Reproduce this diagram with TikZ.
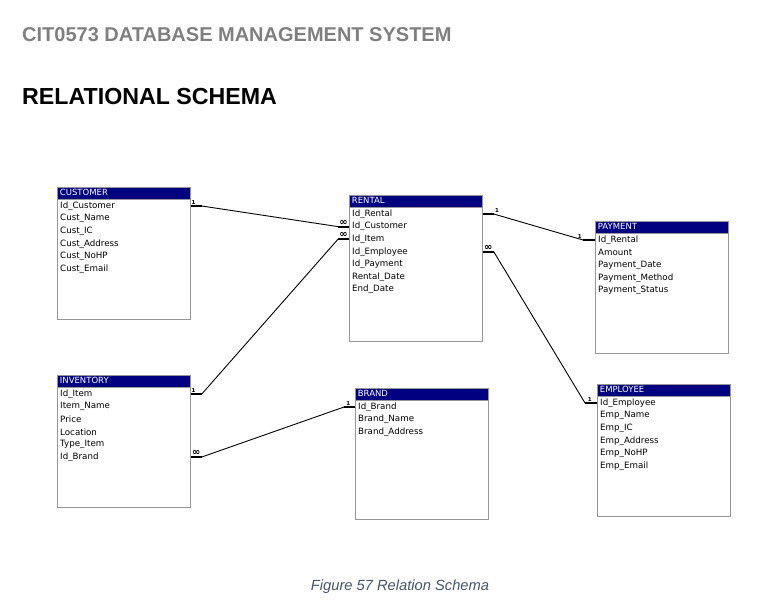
\documentclass[tikz,border=0pt]{standalone}
\usepackage{fontspec}
\setmainfont{Liberation Sans}
\newfontfamily\tabfont{DejaVu Sans}
\usetikzlibrary{positioning}

\definecolor{hdrblue}{RGB}{0,0,128}
\definecolor{boxgray}{RGB}{150,150,150}
\definecolor{titlegray}{RGB}{127,127,127}
\definecolor{capgray}{RGB}{68,84,106}

\newcommand{\many}{{\fontsize{10}{8}\selectfont ∞}}

\tikzset{
  tbl/.style={draw=boxgray, line width=0.8pt, anchor=north west,
    minimum width=133pt, inner sep=0pt},
  tblhead/.style={draw=boxgray, line width=0.8pt, fill=hdrblue, text=white,
    anchor=north west, text width=128pt, inner xsep=2.5pt, inner ysep=0pt,
    minimum height=12pt, text height=7pt, text depth=2pt,
    font=\tabfont\fontsize{8.5}{9}\selectfont},
  field/.style={anchor=west, inner sep=0pt,
    font=\tabfont\fontsize{8.7}{9}\selectfont},
  stub/.style={line width=2pt},
  link/.style={line width=0.9pt},
  card/.style={inner sep=0.4pt, font=\tabfont\bfseries\fontsize{5.5}{6}\selectfont}
}

\begin{document}
\begin{tikzpicture}[x=1pt,y=-1pt]

  \useasboundingbox (0,0) rectangle (784,614);

  % titles
  \node[anchor=west, inner sep=0pt, text=titlegray,
    font=\bfseries\fontsize{20}{24}\selectfont] (course) at (22,35)
    {CIT0573 DATABASE MANAGEMENT SYSTEM};
  \node[anchor=west, inner sep=0pt,
    font=\bfseries\fontsize{23.2}{28}\selectfont] (heading) at (22,97)
    {RELATIONAL SCHEMA};

  % tables
  \node[tbl, minimum height=132pt] (cust) at (57,187) {};
  \node[tblhead] (custh) at (57,187) {CUSTOMER};
  \foreach \n/\t [count=\i from 0] in {idcust/Id\_Customer, cname/Cust\_Name,
      cic/Cust\_IC, caddr/Cust\_Address, cnohp/Cust\_NoHP, cmail/Cust\_Email}
    \node[field] (\n) at (60,206+12.6*\i) {\t};

  \node[tbl, minimum height=146pt] (rent) at (349,195) {};
  \node[tblhead] (renth) at (349,195) {RENTAL};
  \foreach \n/\t [count=\i from 0] in {rid/Id\_Rental, rcust/Id\_Customer,
      ritem/Id\_Item, remp/Id\_Employee, rpay/Id\_Payment,
      rdate/Rental\_Date, rend/End\_Date}
    \node[field] (\n) at (352,214+12.6*\i) {\t};

  \node[tbl, minimum height=132pt] (pay) at (595,221) {};
  \node[tblhead] (payh) at (595,221) {PAYMENT};
  \foreach \n/\t [count=\i from 0] in {prent/Id\_Rental, pamt/Amount,
      pdate/Payment\_Date, pmeth/Payment\_Method, pstat/Payment\_Status}
    \node[field] (\n) at (598,240+12.6*\i) {\t};

  \node[tbl, minimum height=132pt] (inv) at (57,375) {};
  \node[tblhead] (invh) at (57,375) {INVENTORY};
  \foreach \n/\t [count=\i from 0] in {iitem/Id\_Item, iname/Item\_Name,
      iprice/Price, iloc/Location, itype/Type\_Item, ibrand/Id\_Brand}
    \node[field] (\n) at (60,394+12.6*\i) {\t};

  \node[tbl, minimum height=131pt] (brand) at (355,388) {};
  \node[tblhead] (brandh) at (355,388) {BRAND};
  \foreach \n/\t [count=\i from 0] in {bid/Id\_Brand, bname/Brand\_Name,
      baddr/Brand\_Address}
    \node[field] (\n) at (358,407+12.6*\i) {\t};

  \node[tbl, minimum height=132pt] (emp) at (597,384) {};
  \node[tblhead] (emph) at (597,384) {EMPLOYEE};
  \foreach \n/\t [count=\i from 0] in {eid/Id\_Employee, ename/Emp\_Name,
      eic/Emp\_IC, eaddr/Emp\_Address, enohp/Emp\_NoHP, email/Emp\_Email}
    \node[field] (\n) at (600,403+12.6*\i) {\t};

  % relationships
  \coordinate (c1) at ([xshift=11pt]cust.east |- idcust);
  \coordinate (r1) at ([xshift=-11pt]rent.west |- rcust);
  \draw[stub] (cust.east |- idcust) -- node[card, above, pos=0.25] {1} (c1);
  \draw[link] (c1) -- (r1);
  \draw[stub] (r1) -- node[card, above] {\many} (rent.west |- rcust);

  \coordinate (c2) at ([xshift=11pt]inv.east |- iitem);
  \coordinate (r2) at ([xshift=-11pt]rent.west |- ritem);
  \draw[stub] (inv.east |- iitem) -- node[card, above, pos=0.25] {1} (c2);
  \draw[link] (c2) -- (r2);
  \draw[stub] (r2) -- node[card, above] {\many} (rent.west |- ritem);

  \coordinate (c3) at ([xshift=11pt]rent.east |- rid);
  \coordinate (r3) at ([xshift=-12pt]pay.west |- prent);
  \draw[stub] (rent.east |- rid) -- node[card, above right, pos=1] {1} (c3);
  \draw[link] (c3) -- (r3);
  \draw[stub] (r3) -- node[card, above left, pos=0] {1} (pay.west |- prent);

  \coordinate (c4) at ([xshift=11pt]rent.east |- remp);
  \coordinate (r4) at ([xshift=-12pt]emp.west |- eid);
  \draw[stub] (rent.east |- remp) -- node[card, above] {\many} (c4);
  \draw[link] (c4) -- (r4);
  \draw[stub] (r4) -- node[card, above, pos=0.4] {1} (emp.west |- eid);

  \coordinate (c5) at ([xshift=11pt]inv.east |- ibrand);
  \coordinate (r5) at ([xshift=-11pt]brand.west |- bid);
  \draw[stub] (inv.east |- ibrand) -- node[card, above] {\many} (c5);
  \draw[link] (c5) -- (r5);
  \draw[stub] (r5) -- node[card, above, pos=0.4] {1} (brand.west |- bid);

  % caption
  \node[text=capgray, inner sep=0pt,
    font=\itshape\fontsize{14.7}{17}\selectfont] (caption) at (400,587)
    {Figure 57 Relation Schema};

\end{tikzpicture}
\end{document}
